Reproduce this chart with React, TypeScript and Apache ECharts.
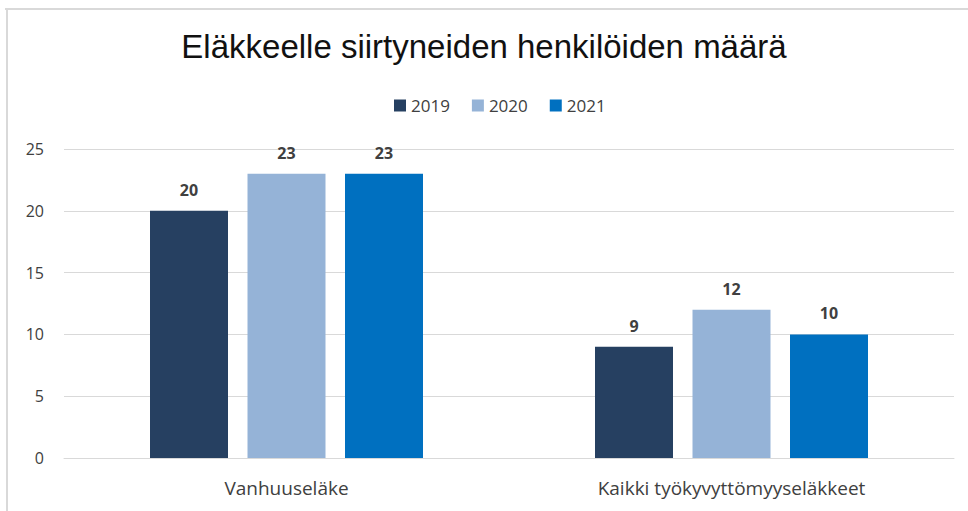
import React, { useEffect, useRef } from "react";
import * as echarts from "echarts";

const categories = ["Vanhuuseläke", "Kaikki työkyvyttömyyseläkkeet"];
const years = ["2019", "2020", "2021"];
const values2019 = [20, 9];
const values2020 = [23, 12];
const values2021 = [23, 10];
const colors = ["#264061", "#95b3d7", "#0070c0"];

export default function App() {
  const ref = useRef<HTMLDivElement>(null);
  useEffect(() => {
    if (!ref.current) return;
    const chart = echarts.init(ref.current, null, { renderer: "svg" });
    const seriesData = [values2019, values2020, values2021];
    chart.setOption({
      animation: false,
      backgroundColor: "#ffffff",
      title: {
        text: "Eläkkeelle siirtyneiden henkilöiden määrä",
        left: "center",
        top: 25,
        textStyle: {
          fontFamily: "Liberation Sans",
          fontSize: 33,
          fontWeight: "normal",
          color: "#111111",
        },
      },
      legend: {
        top: 92,
        left: 389,
        itemWidth: 12,
        itemHeight: 12,
        itemGap: 22,
        icon: "rect",
        textStyle: { fontFamily: "Open Sans", fontSize: 17, color: "#404040" },
        data: years,
      },
      grid: { left: 64, right: 14, top: 149, bottom: 53, containLabel: false },
      xAxis: {
        type: "category",
        data: categories,
        axisLine: { show: true, lineStyle: { color: "#d9d9d9", width: 1 } },
        axisTick: { show: false },
        axisLabel: {
          fontFamily: "Open Sans",
          fontSize: 19,
          color: "#404040",
          margin: 20,
        },
      },
      yAxis: {
        type: "value",
        min: 0,
        max: 25,
        interval: 5,
        axisLine: { show: false },
        axisTick: { show: false },
        splitLine: { lineStyle: { color: "#d9d9d9", width: 1 } },
        axisLabel: {
          fontFamily: "Open Sans",
          fontSize: 16,
          color: "#404040",
          margin: 20,
        },
      },
      series: years.map((y, i) => ({
        name: y,
        type: "bar",
        data: seriesData[i],
        barWidth: 78,
        barGap: "25%",
        itemStyle: { color: colors[i] },
        label: {
          show: true,
          position: "top",
          distance: 13,
          fontFamily: "Open Sans",
          fontSize: 16,
          fontWeight: "bold",
          color: "#404040",
        },
      })),
      graphic: [
        {
          type: "line",
          shape: { x1: 5, y1: 9, x2: 968, y2: 9 },
          style: { stroke: "#d9d9d9", lineWidth: 2 },
        },
        {
          type: "line",
          shape: { x1: 7, y1: 9, x2: 7, y2: 511 },
          style: { stroke: "#d9d9d9", lineWidth: 2 },
        },
      ],
    });
    return () => chart.dispose();
  }, []);
  return (
    <div
      ref={ref}
      style={{ width: 968, height: 511, position: "absolute", left: 0, top: 0 }}
    />
  );
}
